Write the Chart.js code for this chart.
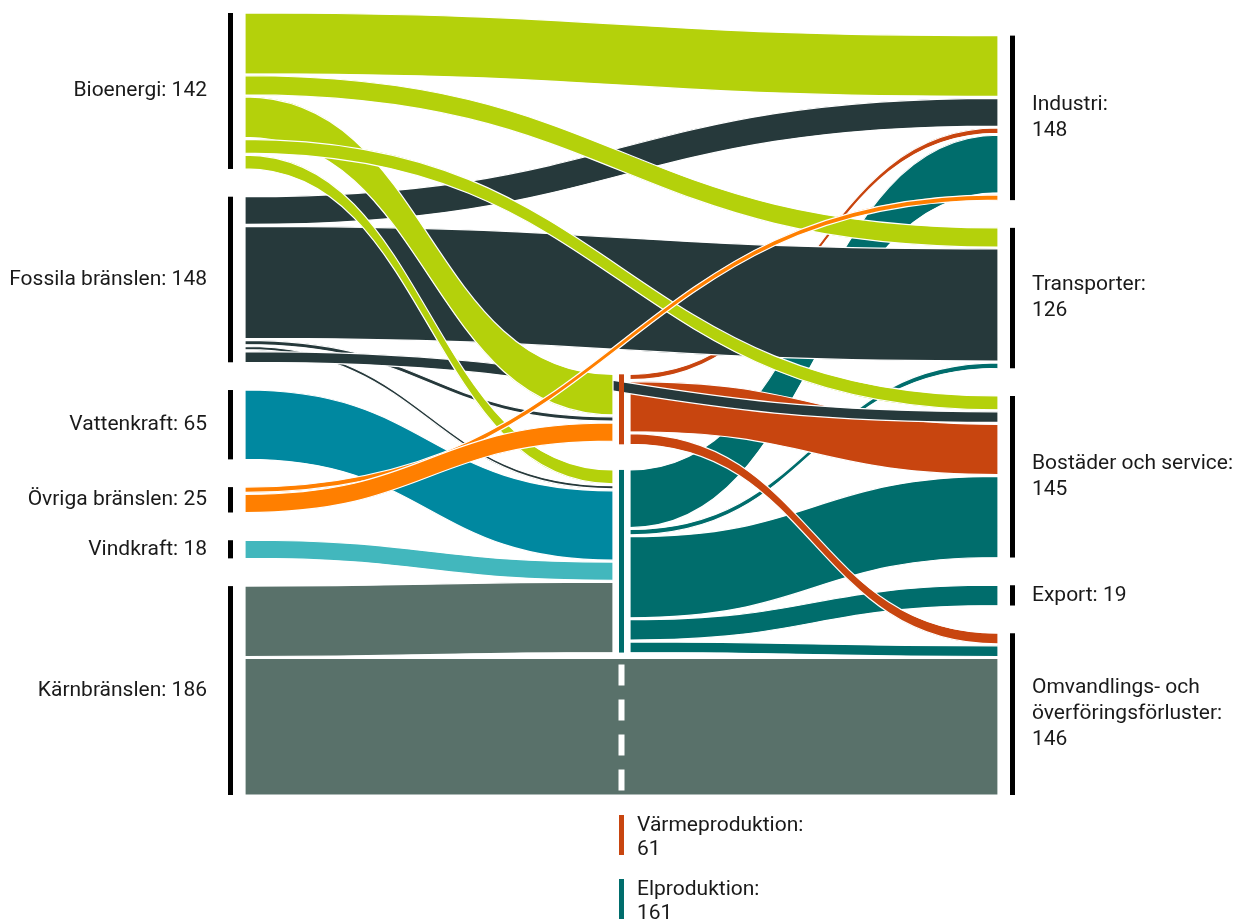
<!DOCTYPE html>
<html>
<head>
<meta charset="utf-8">
<script src="https://cdn.jsdelivr.net/npm/chart.js@4.4.0/dist/chart.umd.min.js"></script>
<style>
  html, body { margin: 0; padding: 0; background: #fff; }
  #wrap { width: 1240px; height: 923px; }
</style>
</head>
<body>
<div id="wrap"><canvas id="sankey" width="1240" height="923"></canvas></div>
<script>
const sourceNodes = ['Bioenergi', 'Fossila bränslen', 'Vattenkraft', 'Övriga bränslen', 'Vindkraft', 'Kärnbränslen'];
const sourceTotals = [142, 148, 65, 25, 18, 186];
const middleNodes = ['Värmeproduktion', 'Elproduktion'];
const middleTotals = [61, 161];
const targetNodes = ['Industri', 'Transporter', 'Bostäder och service', 'Export', 'Omvandlings- och överföringsförluster'];
const targetTotals = [148, 126, 145, 19, 146];

// flows, in the order they leave each node (top to bottom)
const flowFrom = [
    'Bioenergi', 'Bioenergi', 'Bioenergi', 'Bioenergi', 'Bioenergi',
    'Fossila bränslen', 'Fossila bränslen', 'Fossila bränslen', 'Fossila bränslen', 'Fossila bränslen',
    'Vattenkraft',
    'Övriga bränslen', 'Övriga bränslen',
    'Vindkraft',
    'Kärnbränslen', 'Kärnbränslen',
    'Värmeproduktion', 'Värmeproduktion', 'Värmeproduktion',
    'Elproduktion', 'Elproduktion', 'Elproduktion', 'Elproduktion', 'Elproduktion'
];
const flowTo = [
    'Industri', 'Transporter', 'Värmeproduktion', 'Bostäder och service', 'Elproduktion',
    'Industri', 'Transporter', 'Värmeproduktion', 'Elproduktion', 'Bostäder och service',
    'Elproduktion',
    'Industri', 'Värmeproduktion',
    'Elproduktion',
    'Elproduktion', 'Omvandlings- och överföringsförluster',
    'Industri', 'Bostäder och service', 'Omvandlings- och överföringsförluster',
    'Industri', 'Transporter', 'Bostäder och service', 'Export', 'Omvandlings- och överföringsförluster'
];
const flowValues = [
    57, 18, 38, 13, 13,
    26, 105, 4, 3, 10,
    65,
    5, 17,
    17,
    66, 128,
    5, 47, 10,
    54, 5, 76, 19, 10
];

// order in which flows arrive at each node, top to bottom
const inOrder = {
    'Värmeproduktion': ['Bioenergi', 'Fossila bränslen', 'Övriga bränslen'],
    'Elproduktion': ['Bioenergi', 'Fossila bränslen', 'Vattenkraft', 'Vindkraft', 'Kärnbränslen'],
    'Industri': ['Bioenergi', 'Fossila bränslen', 'Värmeproduktion', 'Elproduktion', 'Övriga bränslen'],
    'Transporter': ['Bioenergi', 'Fossila bränslen', 'Elproduktion'],
    'Bostäder och service': ['Bioenergi', 'Fossila bränslen', 'Värmeproduktion', 'Elproduktion'],
    'Export': ['Elproduktion'],
    'Omvandlings- och överföringsförluster': ['Värmeproduktion', 'Elproduktion', 'Kärnbränslen']
};

const nodeColors = {
    'Bioenergi': '#b4d10b',
    'Fossila bränslen': '#26393b',
    'Vattenkraft': '#0088a0',
    'Övriga bränslen': '#ff7f00',
    'Vindkraft': '#42b7bd',
    'Kärnbränslen': '#59716a',
    'Värmeproduktion': '#c8450f',
    'Elproduktion': '#006d6c'
};
const drawOrder = ['Elproduktion', 'Värmeproduktion', 'Kärnbränslen', 'Vindkraft', 'Vattenkraft', 'Fossila bränslen', 'Bioenergi', 'Övriga bränslen'];

const NODE_GAP = 26;
const MID_GAP = 24;
const FLOW_GAP = 1.8;
const PASS_GAP = 5.5;
const FONT = '21px Roboto, "Noto Sans", sans-serif';
const TEXT = '#1a1a1a';

function buildLayout() {
    const nodes = {};
    const add = (name, col, total) => { nodes[name] = { name, col, total, outs: [], ins: [] }; };
    sourceNodes.forEach((n, i) => add(n, 0, sourceTotals[i]));
    middleNodes.forEach((n, i) => add(n, 1, middleTotals[i]));
    targetNodes.forEach((n, i) => add(n, 2, targetTotals[i]));

    const flows = flowValues.map((v, i) => ({ from: flowFrom[i], to: flowTo[i], value: v }));
    flows.forEach(f => nodes[f.from].outs.push(f));
    Object.keys(inOrder).forEach(name => {
        nodes[name].ins = inOrder[name].map(src => flows.find(f => f.from === src && f.to === name));
    });

    const side = list => list.reduce((s, f) => s + f.value, 0) + Math.max(list.length - 1, 0) * FLOW_GAP;
    Object.values(nodes).forEach(n => { n.size = Math.max(side(n.ins), side(n.outs)); });

    const span = names => names.reduce((s, n) => s + nodes[n].size, 0) + (names.length - 1) * NODE_GAP;
    const yMax = Math.max(span(sourceNodes), span(targetNodes));

    const stack = (names, bottom, gap) => {
        let y = bottom;
        for (let i = names.length - 1; i >= 0; i--) {
            const n = nodes[names[i]];
            n.bottom = y;
            n.top = y - n.size;
            y = n.top - gap;
        }
    };
    stack(sourceNodes, yMax, NODE_GAP);
    stack(targetNodes, yMax, NODE_GAP);
    // the bottom flow (nuclear losses) runs straight through the middle column
    const lastSource = sourceNodes[sourceNodes.length - 1];
    const lastTarget = targetNodes[targetNodes.length - 1];
    const passing = flows.filter(f => f.from === lastSource && f.to === lastTarget);
    const passSize = passing.reduce((s, f) => s + f.value, 0);
    stack(middleNodes, yMax - passSize - PASS_GAP, MID_GAP);

    Object.values(nodes).forEach(n => {
        let c = n.top;
        n.outs.forEach(f => { f.y0 = c; c += f.value + FLOW_GAP; });
        c = n.top;
        n.ins.forEach(f => { f.y1 = c; c += f.value + FLOW_GAP; });
    });
    return { nodes, flows, passing, yMax };
}

const layout = buildLayout();

function wrapText(ctx, text, maxWidth) {
    const words = text.split(' ');
    const lines = [];
    let line = '';
    words.forEach(w => {
        const test = line ? line + ' ' + w : w;
        if (ctx.measureText(test).width > maxWidth && line) {
            lines.push(line);
            line = w;
        } else {
            line = test;
        }
    });
    lines.push(line);
    return lines;
}

const sankeyPlugin = {
    id: 'sankey',
    afterDraw(chart) {
        const ctx = chart.ctx;
        const xs = chart.scales.x;
        const ys = chart.scales.y;
        const { nodes, flows, passing } = layout;
        const xLeft = xs.getPixelForValue(0);
        const xMid = xs.getPixelForValue(1);
        const xRight = xs.getPixelForValue(2);
        const MID_PAD = 8.5;

        ctx.save();
        // flows
        const ordered = [];
        drawOrder.forEach(src => flows.filter(f => f.from === src).forEach(f => ordered.push(f)));
        ordered.forEach(f => {
            const x0 = nodes[f.from].col === 0 ? xLeft : xMid + MID_PAD;
            const x1 = nodes[f.to].col === 2 ? xRight : xMid - MID_PAD;
            const xm = (x0 + x1) / 2;
            const ya = ys.getPixelForValue(f.y0);
            const yb = ys.getPixelForValue(f.y0 + f.value);
            const yc = ys.getPixelForValue(f.y1);
            const yd = ys.getPixelForValue(f.y1 + f.value);
            ctx.beginPath();
            ctx.moveTo(x0, ya);
            ctx.bezierCurveTo(xm, ya, xm, yc, x1, yc);
            ctx.lineTo(x1, yd);
            ctx.bezierCurveTo(xm, yd, xm, yb, x0, yb);
            ctx.closePath();
            ctx.fillStyle = nodeColors[f.from];
            ctx.fill();
            ctx.strokeStyle = '#fff';
            ctx.lineWidth = 1.2;
            ctx.stroke();
        });

        // dashes where the passing flow crosses the middle column
        passing.forEach(f => {
            const top = ys.getPixelForValue(f.y0);
            const bottom = ys.getPixelForValue(f.y0 + f.value);
            ctx.beginPath();
            ctx.setLineDash([21, 14]);
            ctx.strokeStyle = '#fff';
            ctx.lineWidth = 6;
            ctx.moveTo(xMid, top + 6);
            ctx.lineTo(xMid, bottom);
            ctx.stroke();
            ctx.setLineDash([]);
        });

        // node bars and labels
        ctx.font = FONT;
        ctx.fillStyle = TEXT;
        sourceNodes.forEach(name => {
            const n = nodes[name];
            const top = ys.getPixelForValue(n.top);
            const bottom = ys.getPixelForValue(n.bottom);
            ctx.fillStyle = '#000';
            ctx.fillRect(xLeft - 17, top, 5, bottom - top);
            ctx.fillStyle = TEXT;
            ctx.textAlign = 'right';
            ctx.textBaseline = 'middle';
            ctx.fillText(name + ': ' + n.total, xLeft - 38, (top + bottom) / 2);
        });

        targetNodes.forEach(name => {
            const n = nodes[name];
            const top = ys.getPixelForValue(n.top);
            const bottom = ys.getPixelForValue(n.bottom);
            ctx.fillStyle = '#000';
            ctx.fillRect(xRight + 12, top, 5, bottom - top);
            let lines = wrapText(ctx, name + ':', 205);
            if (bottom - top > 40) {
                lines.push(String(n.total));
            } else {
                lines[lines.length - 1] += ' ' + n.total;
            }
            const lh = 26;
            const cy = (top + bottom) / 2 - (lines.length - 1) * lh / 2;
            ctx.fillStyle = TEXT;
            ctx.textAlign = 'left';
            ctx.textBaseline = 'middle';
            lines.forEach((l, i) => ctx.fillText(l, xRight + 34, cy + i * lh));
        });

        middleNodes.forEach((name, i) => {
            const n = nodes[name];
            const top = ys.getPixelForValue(n.top);
            const bottom = ys.getPixelForValue(n.bottom);
            ctx.fillStyle = nodeColors[name];
            ctx.fillRect(xMid - 2.5, top, 5, bottom - top);
            // legend below the chart
            const lt = chart.chartArea.bottom + 20 + i * 64;
            ctx.fillRect(xMid - 2.5, lt, 5, 40);
            ctx.fillStyle = TEXT;
            ctx.textAlign = 'left';
            ctx.textBaseline = 'middle';
            ctx.fillText(name + ':', xMid + 15.5, lt + 11);
            ctx.fillText(String(n.total), xMid + 15.5, lt + 35);
        });
        ctx.restore();
    }
};

const ctx = document.getElementById('sankey').getContext('2d');
const chart = new Chart(ctx, {
    type: 'scatter',
    data: { datasets: [] },
    options: {
        responsive: false,
        animation: false,
        devicePixelRatio: 1,
        layout: { padding: { left: 245, right: 242, top: 13, bottom: 128 } },
        plugins: { legend: { display: false }, tooltip: { enabled: false } },
        scales: {
            x: { type: 'linear', min: 0, max: 2, display: false },
            y: { type: 'linear', min: 0, max: layout.yMax, reverse: true, display: false }
        }
    },
    plugins: [sankeyPlugin]
});
</script>
</body>
</html>
